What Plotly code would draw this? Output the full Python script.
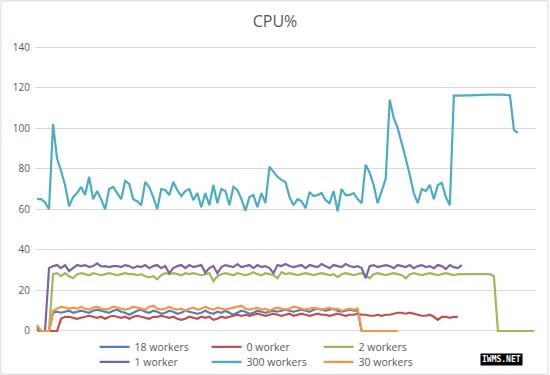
import plotly.graph_objects as go

# ---- data ----
workers_18 = [2,0,0,0,9,9.5,9,9.5,10,9,
              9.5,10,9.5,9,10,10.5,10,9.5,9,10,
              10.5,9.5,9,8,9,10,10.5,9.5,9,10,
              9.5,8.5,9,10,9.5,8.5,9,10,9.5,9,
              8.5,9,10,9,8.5,9.5,9,10,9,8,
              9,10,9.5,8.5,9,10,9.5,9,9.5,10,
              9.5,10,10.5,10,9.5,10,10.5,10,9.5,10.5,
              11,10.5,10,10.5,11,10,9.5,10,10.5,10,
              10,0]

workers_0 = [0,0,0,0,0,0,6,7,7,6.5,
             6,6.5,7,7.5,7,6.5,7,6,7,7.5,
             7,6.5,7,6,7,7.5,7,6.5,6,7,
             7,7.5,7,6.5,7,6,5.5,6,7,6.5,
             6,7,6.5,7,5.5,6,7,6.5,7,7.5,
             8,7.5,8,7.5,8,8.5,8,7.5,8,8.5,
             8,7.5,8,8.5,7.5,8,8.5,8,7.5,8,
             8.5,8,8,7.5,8,8.5,8,7.5,8,8,
             8.5,8,8,7.5,7.5,8,7.5,8,8,8.5,
             9,9,8.5,9,8.5,8,7.5,7.5,8,7,
             5.5,7,7,6.5,7,7]

workers_2 = [0,0,0,0,28,28.5,27,28.5,27,26,
             28,28.5,28,27.5,28.5,28,27.5,28,28.5,28,
             27.5,28,28.5,28,28,27.5,28,27,26.5,27,
             25.5,27.5,28.5,28,28.5,28,27.5,28.5,28,28.5,
             28,27.5,28,28.5,24.5,27,28,28.5,28,27.5,
             28.5,28,27.5,28,29,28,27.5,28.5,28,27.5,
             26,29,28,28.5,28,27.5,28,28.5,28,27.5,
             28,28.5,28,27.5,28,26.5,28,28.5,28,27.5,
             28,28.5,27.5,26,28,28.5,28,27.5,28,28.5,
             28,27.5,26,28,28.5,28,27.5,28,28.5,28,
             27.5,28,28.5,28,27.5,28,28,28,28,28,
             28,28,28,28,27,0,0,0,0,0,
             0,0,0,0,0]

workers_1 = [1,0,0,31,32,32.5,31,32.5,29.5,31,
             32.5,32,32.5,31.5,32,33.3,31.8,32,31.5,32,
             32,31.5,32.5,32,31,32,31.5,32.5,31,32,
             32.5,31,32,28.5,31,32,32.5,31,32.5,31.5,
             32,32.5,28.8,31,32,28.5,31.5,32.5,32,31.5,
             33,31.5,32,32.5,31,32.5,31.5,32,31,28.5,
             32.5,32,33,32,31.5,32,32.5,31,32.5,32,
             31.5,33,32,31,32.5,32,31.5,33,32,31.5,
             32,31,26,32,32.5,31.5,32,32.5,32,31,
             32.5,32,31.5,32.5,31,32,32.5,31.5,32,31,
             32.5,32,30.5,32.5,31.5,31,32.5]

workers_300 = [65,65,63.5,60,102,85,79,72,61.5,66,
               68,71,67,76,65,69,65,60,70,71,
               68,65,74,72.5,65,64,62,73.5,71,66,
               60,70,69.5,67,73.5,69.5,66.5,69,70,64.5,
               68,61,68,62,72,63,70,69,62,71,
               69.5,65,59.3,66,67,61,68,63,81,78.5,
               76,74.5,73.5,66,62,65,64,60.5,68.5,66.5,
               67,68,64.5,63,69,59,70,67,67,68,
               65,63,82,78,72,63,69.5,75,114,
               105,100,93,85,77,68,63,70,69,72,65,72,73,66,62,
               116,116,116,116,116.1,116.2,116.3,116.4,116.5,116.5,116.5,116.6,116.5,116.3,116.2,
               99,97.7]

workers_30 = [3,0,0,0,10,11,12,11.5,11,11.5,
              11,12,11,10.5,11.5,12,11,10.5,11,12,
              11.5,11,10.5,11,12,11.5,11,10.5,12,12.5,
              11,10.5,11,12,11,10.5,11,10,11,11.5,
              10.5,11,12,11,10.5,11.5,11,10.5,11,11.5,
              12,12.5,11,10.5,11,11.5,10.5,11,10,11,
              11.5,11,10.5,11,12,11.5,11,10.5,11,11.5,
              11,10.5,11,11.5,10.5,11,10,10.5,11,10.5,
              11,0,0,0,0,0,0,0,0,0,0]

n_categories = 125
y_ticks = [0, 20, 40, 60, 80, 100, 120, 140]

series = [
    ("18 workers", workers_18, "#4F81BD", "legend"),
    ("0 worker", workers_0, "#C0504D", "legend"),
    ("2 workers", workers_2, "#9BBB59", "legend"),
    ("1 worker", workers_1, "#8064A2", "legend2"),
    ("300 workers", workers_300, "#4BACC6", "legend2"),
    ("30 workers", workers_30, "#F79646", "legend2"),
]

fig = go.Figure()
for name, vals, color, leg in series:
    fig.add_trace(go.Scatter(
        x=list(range(len(vals))), y=vals, mode="lines", name=name,
        line=dict(color=color, width=2.2), legend=leg,
    ))

font_family = "Open Sans, Noto Sans, sans-serif"
legend_common = dict(
    orientation="h", xanchor="left", yanchor="middle",
    xref="container", yref="container",
    font=dict(family=font_family, size=10.5, color="#595959"),
    bgcolor="rgba(0,0,0,0)", borderwidth=0,
    entrywidth=67, entrywidthmode="pixels",
    itemwidth=30, tracegroupgap=0,
)

fig.update_layout(
    width=550, height=375,
    margin=dict(l=35, r=14, t=46, b=43, autoexpand=False),
    paper_bgcolor="white", plot_bgcolor="white",
    title=dict(text="CPU%", x=0.5, xanchor="center", y=0.942, yanchor="middle",
               xref="container", yref="container",
               font=dict(family=font_family, size=16, color="#595959")),
    xaxis=dict(range=[-0.5, n_categories - 0.5], showticklabels=False,
               showgrid=False, zeroline=False, showline=False, ticks="",
               automargin=False),
    yaxis=dict(range=[-0.5, 140.5], tickvals=y_ticks, showgrid=True,
               gridcolor="#D9D9D9", gridwidth=1, zeroline=False, showline=False,
               ticks="", ticklabelstandoff=4, automargin=False,
               tickfont=dict(family=font_family, size=10, color="#595959")),
    legend=dict(x=0.172, y=0.075, **legend_common),
    legend2=dict(x=0.172, y=0.035, **legend_common),
    showlegend=True,
)

# faint chart border
fig.add_shape(type="rect", xref="paper", yref="paper",
              x0=-0.068, x1=1.024, y0=-0.148, y1=1.158,
              line=dict(color="#D9D9D9", width=1), fillcolor="rgba(0,0,0,0)", layer="below")

fig.add_annotation(text="<b>IWMS.NET</b>", xref="paper", yref="paper",
                   x=0.975, y=-0.12, showarrow=False,
                   font=dict(family="DejaVu Sans Mono", size=8, color="white"),
                   bgcolor="black", borderpad=1)

fig.write_html("out.html", config={"displayModeBar": False},
               post_script="document.body.style.margin='0';document.body.style.padding='0';")
